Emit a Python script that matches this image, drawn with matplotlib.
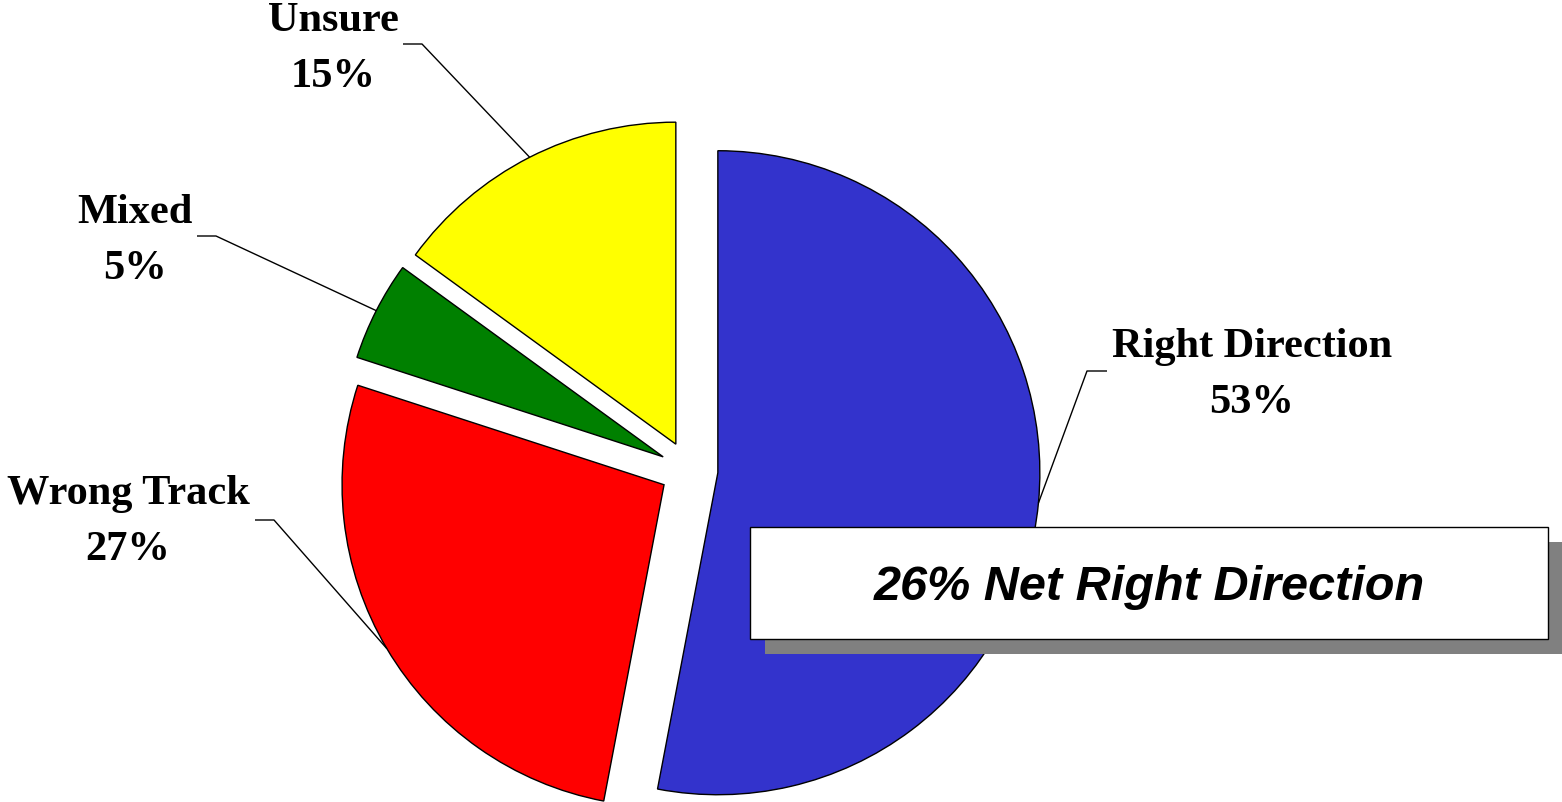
import numpy as np
import matplotlib
matplotlib.use("Agg")
import matplotlib.pyplot as plt
from matplotlib.patches import Rectangle

# data
labels=["Right Direction","Wrong Track","Mixed","Unsure"]
values=[53,27,5,15]
colors=["#3333CC","#FF0000","#008000","#FFFF00"]
note="26% Net Right Direction"

W,H=1562,803
fig=plt.figure(figsize=(W/100,H/100),dpi=100)
ax=fig.add_axes([0,0,1,1])

# pie in pixel-like coords (y up); explode is in data units
cx,cy=689,H-471
R=322
wedges,_=ax.pie(values,explode=[0.09*R]*len(values),colors=colors,startangle=90,
                counterclock=False,center=(cx,cy),radius=R,
                wedgeprops=dict(edgecolor="black",linewidth=1.0))
ax.set_xlim(0,W)
ax.set_ylim(0,H)
ax.set_aspect("equal")
ax.axis("off")

# label text centers, leader elbow and end of horizontal tick (pixels, y down)
lab_pos=[(1252,375),(128,522),(135,241),(333,49)]
elbow=[(1087,372),(274,521),(216,237),(422,45)]
tick_end=[(1107,372),(255,521),(197,237),(403,45)]

serif=["Liberation Serif","DejaVu Serif"]
for w,lab,v,tp,el,te in zip(wedges,labels,values,lab_pos,elbow,tick_end):
    mid=np.deg2rad((w.theta1+w.theta2)/2)
    px=w.center[0]+w.r*np.cos(mid)
    py=w.center[1]+w.r*np.sin(mid)
    ax.plot([px,el[0],te[0]],[py,H-el[1],H-te[1]],color="black",lw=1.0,
            solid_capstyle="butt",zorder=3)
    ax.text(tp[0],H-tp[1],f"{lab}\n{v}%",ha="center",va="center",
            fontsize=30.5,fontweight="bold",family=serif,linespacing=1.6,zorder=4)

# note box with shadow
bx0,by0,bx1,by1=750,528,1548,640
sh=15
ax.add_patch(Rectangle((bx0+sh,H-by1-sh),bx1-bx0,by1-by0,facecolor="#808080",
                       edgecolor="none",zorder=5))
ax.add_patch(Rectangle((bx0,H-by1),bx1-bx0,by1-by0,facecolor="white",
                       edgecolor="black",lw=1.0,zorder=6))
ax.text((bx0+bx1)/2,H-(by0+by1)/2-4,note,ha="center",va="center",fontsize=35,
        fontweight="bold",fontstyle="italic",family=["Liberation Sans","DejaVu Sans"],zorder=7)

fig.savefig("out.png",dpi=100)
